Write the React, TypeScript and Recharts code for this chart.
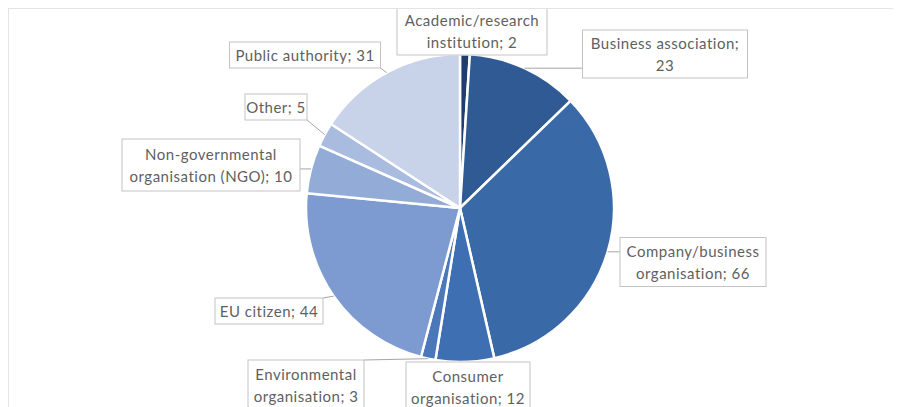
import React from 'react'
import { PieChart, Pie, Cell } from 'recharts'

const categories = [
    'Academic/research institution',
    'Business association',
    'Company/business organisation',
    'Consumer organisation',
    'Environmental organisation',
    'EU citizen',
    'Non-governmental organisation (NGO)',
    'Other',
    'Public authority',
]
const counts = [2, 23, 66, 12, 3, 44, 10, 5, 31]
const labelLines = [
    ['Academic/research', 'institution; 2'],
    ['Business association;', '23'],
    ['Company/business', 'organisation; 66'],
    ['Consumer', 'organisation; 12'],
    ['Environmental', 'organisation; 3'],
    ['EU citizen; 44'],
    ['Non-governmental', 'organisation (NGO); 10'],
    ['Other; 5'],
    ['Public authority; 31'],
]
const colors = ['#1f3d6e', '#2f5a94', '#3a69a8', '#3e6fb2', '#4a78b8', '#7d9bd0', '#93abd7', '#a9bbdf', '#c8d2e8']

const data = categories.map((name, i) => ({ name, value: counts[i], lines: labelLines[i] }))

// label box placement: centre offset from the pie centre, box size
const boxes = [
    { dx: 12, dy: -177, w: 150, h: 48 },
    { dx: 205, dy: -154, w: 165, h: 48 },
    { dx: 233, dy: 54, w: 146, h: 49 },
    { dx: 8, dy: 179, w: 124, h: 50 },
    { dx: -154, dy: 177, w: 116, h: 50 },
    { dx: -191, dy: 103, w: 108, h: 26 },
    { dx: -249, dy: -43, w: 178, h: 52 },
    { dx: -184, dy: -101, w: 62, h: 26 },
    { dx: -155, dy: -153, w: 151, h: 26 },
]

const RADIAN = Math.PI / 180
const LINE_GAP = 22

function renderLabel(props: any) {
    const { cx, cy, midAngle, outerRadius, index } = props
    const b = boxes[index]
    const lines: string[] = data[index].lines
    const bx = cx + b.dx - b.w / 2
    const by = cy + b.dy - b.h / 2
    const ax = cx + outerRadius * Math.cos(-midAngle * RADIAN)
    const ay = cy + outerRadius * Math.sin(-midAngle * RADIAN)
    const px = Math.min(Math.max(ax, bx), bx + b.w)
    const py = Math.min(Math.max(ay, by), by + b.h)
    const tcx = cx + b.dx
    const startY = cy + b.dy - ((lines.length - 1) * LINE_GAP) / 2
    return (
        <g key={`lbl-${index}`}>
            <line x1={px} y1={py} x2={ax} y2={ay} stroke="#a6a6a6" strokeWidth={1} />
            <rect x={bx} y={by} width={b.w} height={b.h} fill="#fff" stroke="#c3c3c3" strokeWidth={1} />
            {lines.map((t, i) => (
                <text
                    key={i}
                    x={tcx}
                    y={startY + i * LINE_GAP}
                    textAnchor="middle"
                    dominantBaseline="central"
                    fill="#5f5f5f"
                    fontSize={15}
                    letterSpacing={0.5}
                    fontFamily="Lato, 'Open Sans', sans-serif"
                >
                    {t}
                </text>
            ))}
        </g>
    )
}

export default function App() {
    return (
        <div
            style={{
                width: 893,
                height: 399,
                borderTop: '1px solid #e4e4e4',
                borderLeft: '1px solid #e4e4e4',
                boxSizing: 'border-box',
                background: '#fff',
            }}
        >
            <PieChart width={892} height={398} margin={{ top: 0, right: 0, bottom: 0, left: 0 }}>
                <Pie
                    data={data}
                    dataKey="value"
                    nameKey="name"
                    cx={451}
                    cy={199}
                    outerRadius={154}
                    startAngle={90}
                    endAngle={-270}
                    stroke="#ffffff"
                    strokeWidth={2.5}
                    label={renderLabel}
                    labelLine={false}
                    isAnimationActive={false}
                >
                    {data.map((d, i) => (
                        <Cell key={d.name} fill={colors[i]} />
                    ))}
                </Pie>
            </PieChart>
        </div>
    )
}
